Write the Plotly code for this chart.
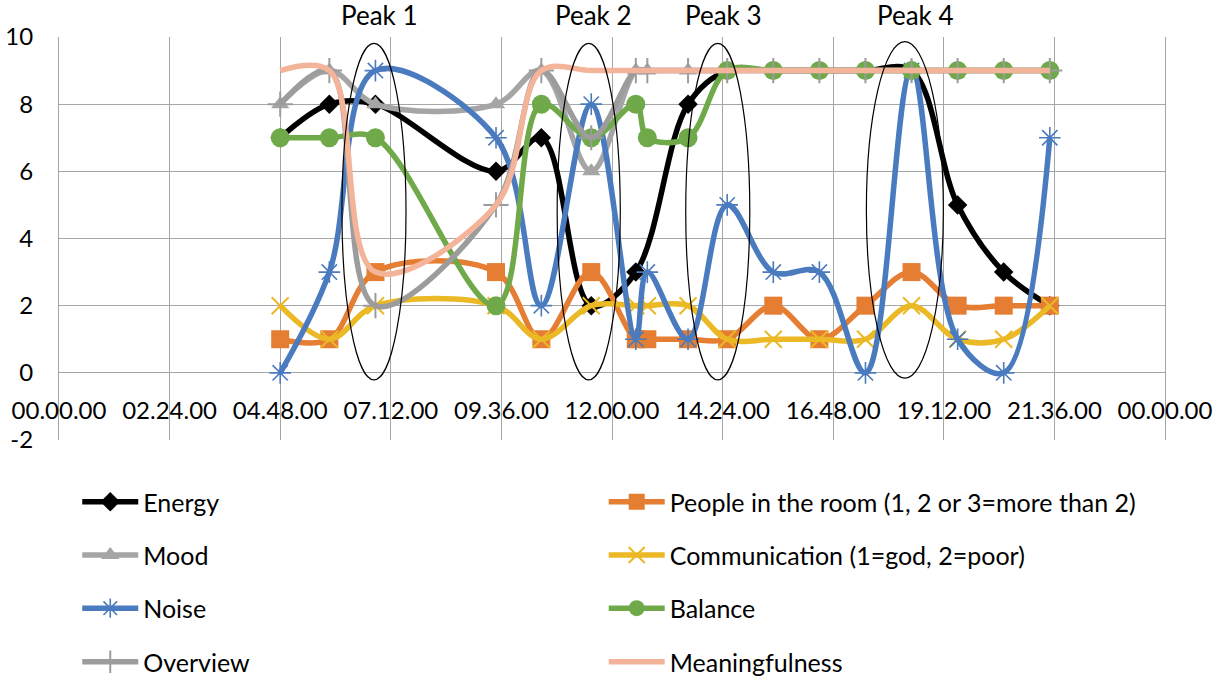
import plotly.graph_objects as go

# ---------------- data ----------------
times = ["04:48", "05:52", "06:52", "09:29", "10:28", "11:33", "12:31", "12:46",
         "13:39", "14:30", "15:30", "16:30", "17:30", "18:30", "19:30", "20:30", "21:30"]

energy = [7, 8, 8, 6, 7, 2, 3, None, 8, 9, 9, 9, 9, 9, 5, 3, 2]
people = [1, 1, 3, 3, 1, 3, 1, 1, 1, 1, 2, 1, 2, 3, 2, 2, 2]
mood = [8, 9, 8, 8, 9, 6, 9, 9, 9, 9, 9, 9, 9, 9, 9, 9, 9]
communication = [2, 1, 2, 2, 1, 2, 2, 2, 2, 1, 1, 1, 1, 2, 1, 1, 2]
noise = [0, 3, 9, 7, 2, 8, 1, 3, 1, 5, 3, 3, 0, 9, 1, 0, 7]
balance = [7, 7, 7, 2, 8, 7, 8, 7, 7, 9, 9, 9, 9, 9, 9, 9, 9]
overview = [8, 9, 2, 5, 9, 7, 9, 9, 9, 9, 9, 9, 9, 9, 9, 9, 9]
meaningfulness = [9, 9, 3, 5, 9, 9, 9, 9, 9, 9, 9, 9, 9, 9, 9, 9, 9]

tick_hours = [0, 2.4, 4.8, 7.2, 9.6, 12.0, 14.4, 16.8, 19.2, 21.6, 24.0]
tick_labels = ["00.00.00", "02.24.00", "04.48.00", "07.12.00", "09.36.00", "12.00.00",
               "14.24.00", "16.48.00", "19.12.00", "21.36.00", "00.00.00"]
y_ticks = [-2, 0, 2, 4, 6, 8, 10]
y_tick_labels = ["-2", "0", "2", "4", "6", "8", "10"]

peak_names = ["Peak 1", "Peak 2", "Peak 3", "Peak 4"]
peak_label_hours = [6.95, 11.59, 14.41, 18.58]
peak_start_hours = [6.14, 10.81, 13.60, 17.52]
peak_end_hours = [7.53, 12.18, 14.99, 19.19]
peak_low = [-0.21, -0.21, -0.21, -0.16]
peak_high = [9.81, 9.81, 9.81, 9.86]


def to_hours(t):
    h, m = t.split(":")
    return int(h) + int(m) / 60.0


x = [to_hours(t) for t in times]

FONT = "Lato"

series = [
    ("Energy", energy, "#000000", "diamond", 15, None),
    ("People in the room (1, 2 or 3=more than 2)", people, "#E57D33", "square", 18, None),
    ("Mood", mood, "#A5A5A5", "triangle-up", 16, None),
    ("Communication (1=god, 2=poor)", communication, "#EBB925", "x-thin-open", 17, 2),
    ("Noise", noise, "#4A7BBF", "asterisk-open", 18, 1.6),
    ("Balance", balance, "#6FA94A", "circle", 19, None),
    ("Overview", overview, "#9C9C9C", "cross-thin-open", 18, 2),
    ("Meaningfulness", meaningfulness, "#F4B49A", None, 0, None),
]

# legend slot positions (paper coords): row-major, 2 columns
leg_cols = [0.0165, 0.4925]
leg_rows = [-0.154, -0.286, -0.418, -0.551]

fig = go.Figure()
layout_legends = {}
for i, (name, vals, color, sym, size, lw) in enumerate(series):
    lname = "legend" if i == 0 else f"legend{i + 1}"
    marker = dict(color=color, size=size)
    if sym is None:
        mode = "lines"
    else:
        mode = "lines+markers"
        marker["symbol"] = sym
        if lw:
            marker["line"] = dict(color=color, width=lw)
    fig.add_trace(go.Scatter(
        x=x, y=vals, name=name, mode=mode,
        line=dict(color=color, width=5.5, shape="spline", smoothing=1.0),
        marker=marker, connectgaps=True, legend=lname,
    ))
    layout_legends[lname] = dict(
        x=leg_cols[i % 2], y=leg_rows[i // 2], xanchor="left", yanchor="middle",
        orientation="h", bgcolor="rgba(0,0,0,0)", itemwidth=56,
        font=dict(family=FONT, size=25, color="#000000"),
    )

# peak ellipses and labels
for nm, lx, x0, x1, y0, y1 in zip(peak_names, peak_label_hours, peak_start_hours,
                                 peak_end_hours, peak_low, peak_high):
    fig.add_shape(type="circle", xref="x", yref="y", x0=x0, x1=x1, y0=y0, y1=y1,
                  line=dict(color="#000000", width=1.2), layer="above")
    fig.add_annotation(x=lx, y=1.055, xref="x", yref="paper", text=nm, showarrow=False,
                       font=dict(family=FONT, size=26, color="#000000"),
                       xanchor="center", yanchor="middle")

fig.update_layout(
    width=1218, height=680, autosize=False,
    margin=dict(l=58.5, r=53, t=37, b=240, pad=0, autoexpand=False),
    plot_bgcolor="white", paper_bgcolor="white",
    font=dict(family=FONT, size=24, color="#000000"),
    showlegend=True, hovermode=False,
    **layout_legends,
)
fig.update_xaxes(
    range=[0, 24], tickmode="array", tickvals=tick_hours, ticktext=tick_labels,
    showgrid=True, gridcolor="#A6A6A6", gridwidth=1, zeroline=False, automargin=False,
    anchor="free", position=(2 / 12), showline=False, ticks="",
    ticklabelstandoff=21, tickfont=dict(family=FONT, size=24, color="#000000"),
)
fig.update_yaxes(
    range=[-2, 10], tickmode="array", tickvals=y_ticks, ticktext=y_tick_labels,
    showgrid=True, gridcolor="#A6A6A6", gridwidth=1, automargin=False,
    zeroline=False, showline=True, linecolor="#A6A6A6", linewidth=1, mirror=True,
    ticks="", ticklabelstandoff=20, tickfont=dict(family=FONT, size=24, color="#000000"),
)

# remove the browser's default 8px body margin so the figure fills the window exactly
fig.write_html("out.html", config={"displayModeBar": False},
               post_script="document.body.style.margin='0';")
